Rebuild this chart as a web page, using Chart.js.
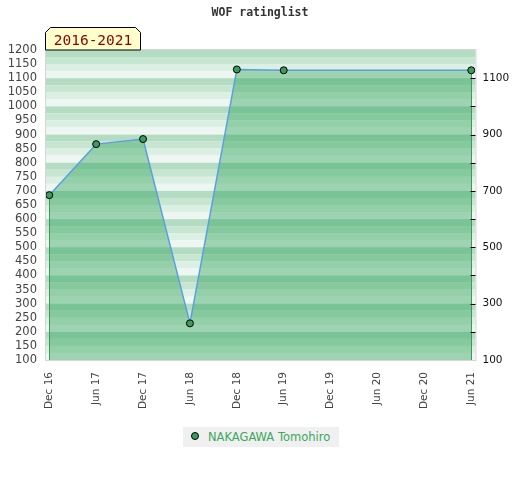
<!DOCTYPE html>
<html>
<head>
<meta charset="utf-8">
<script src="https://cdn.jsdelivr.net/npm/chart.js@4.4.0/dist/chart.umd.min.js"></script>
<style>
  html, body { margin: 0; padding: 0; background: #fff; }
  #wrap { position: relative; width: 520px; height: 480px; }
  #legend { position: absolute; left: 183px; top: 427px; width: 156px; height: 20px;
    background: #f0f0f0; font-family: "DejaVu Sans", sans-serif; font-size: 11.5px; color: #3aa860;
    line-height: 20px; }
  #legend .dot { position: absolute; left: 8px; top: 5px; width: 6px; height: 6px; border-radius: 50%;
    background: #3d9c5c; border: 1px solid #000; }
  #legend .txt { position: absolute; left: 25px; top: 0; white-space: nowrap; }
</style>
</head>
<body>
<div id="wrap">
  <canvas id="c" width="520" height="480"></canvas>
  <div id="legend"><span class="dot"></span><span class="txt" id="legendText"></span></div>
</div>
<script>
const chartTitle = "WOF ratinglist";
const periodLabel = "2016-2021";
const seriesName = "NAKAGAWA Tomohiro";
const categories = ["Dec 16", "Jun 17", "Dec 17", "Jun 18", "Dec 18", "Jun 19", "Dec 19", "Jun 20", "Dec 20", "Jun 21"];
const ratings = [685, 866, 884, 230, 1131, 1128, null, null, null, 1128];
const leftTicks = [100, 150, 200, 250, 300, 350, 400, 450, 500, 550, 600, 650, 700, 750, 800, 850, 900, 950, 1000, 1050, 1100, 1150, 1200];
const rightTickLabels = [100, 300, 500, 700, 900, 1100];
const rightTickMarks = [200, 300, 400, 500, 600, 700, 800, 900, 1000, 1100];

document.getElementById('legendText').textContent = seriesName;

const points = ratings.map((v, i) => ({x: i, y: v})).filter(p => p.y !== null);
const stripeColors = ['#b3dcc3', '#c7e6d2', '#dbefe3', '#eef6f1'];

const decorPlugin = {
  id: 'decor',
  beforeDatasetsDraw(chart) {
    const {ctx, chartArea: a, scales} = chart;
    const y = scales.y;
    ctx.save();
    for (let top = 1200; top > 100; top -= 25) {
      const idx = ((1200 - top) / 25) % 4;
      const y1 = y.getPixelForValue(top), y2 = y.getPixelForValue(top - 25);
      ctx.fillStyle = stripeColors[idx];
      ctx.fillRect(a.left, y1, a.right - a.left, y2 - y1);
    }
    ctx.restore();
  },
  beforeDatasetDraw(chart) {
    const {ctx, chartArea: a} = chart;
    const meta = chart.getDatasetMeta(0);
    const first = meta.data[0], last = meta.data[meta.data.length - 1];
    ctx.save();
    ctx.strokeStyle = '#3a9a5a';
    ctx.lineWidth = 1;
    [first, last].forEach(p => {
      const px = Math.round(p.x) + 0.5;
      ctx.beginPath(); ctx.moveTo(px, p.y); ctx.lineTo(px, a.bottom); ctx.stroke();
    });
    ctx.restore();
  },
  afterDraw(chart) {
    const {ctx, chartArea: a, scales} = chart;
    ctx.save();
    ctx.strokeStyle = '#d6d6d6';
    ctx.lineWidth = 1;
    ctx.strokeRect(a.left - 0.5, a.top - 0.5, a.right - a.left + 1, a.bottom - a.top + 1);
    ctx.strokeStyle = '#000';
    rightTickMarks.forEach(v => {
      const py = Math.round(scales.y2.getPixelForValue(v)) + 0.5;
      ctx.beginPath(); ctx.moveTo(a.right - 5, py); ctx.lineTo(a.right, py); ctx.stroke();
    });
    const l = a.left - 0.5, r = a.left + 94.5, t = a.top - 22.5, b = a.top, c = 5;
    ctx.beginPath();
    ctx.moveTo(l, b); ctx.lineTo(l, t + c); ctx.lineTo(l + c, t);
    ctx.lineTo(r - c, t); ctx.lineTo(r, t + c); ctx.lineTo(r, b);
    ctx.closePath();
    ctx.fillStyle = '#ffffcc';
    ctx.fill();
    ctx.strokeStyle = '#000';
    ctx.stroke();
    ctx.fillStyle = '#8b0000';
    ctx.font = '14.5px "DejaVu Sans Mono", monospace';
    ctx.textAlign = 'center';
    ctx.textBaseline = 'alphabetic';
    ctx.fillText(periodLabel, (l + r) / 2, a.top - 5);
    ctx.restore();
  }
};

new Chart(document.getElementById('c'), {
  type: 'line',
  data: {
    datasets: [{
      label: seriesName,
      data: points,
      borderColor: '#5c9fe0',
      borderWidth: 1.5,
      backgroundColor: 'rgba(30,155,75,0.38)',
      fill: 'start',
      tension: 0,
      pointRadius: 3.5,
      pointBackgroundColor: '#3d9c5c',
      pointBorderColor: '#000',
      pointBorderWidth: 1
    }]
  },
  options: {
    responsive: false,
    animation: false,
    devicePixelRatio: 1,
    layout: { padding: 0 },
    plugins: {
      legend: { display: false },
      tooltip: { enabled: false },
      title: {
        display: true,
        text: chartTitle,
        color: '#333',
        font: { family: '"DejaVu Sans Mono", monospace', size: 11.5, weight: 'bold' },
        padding: { top: 6.5, bottom: 29.7 }
      }
    },
    scales: {
      x: {
        type: 'linear',
        min: -0.07,
        max: 9.09,
        afterBuildTicks: axis => { axis.ticks = categories.map((_, i) => ({ value: i })); },
        afterFit: axis => { axis.height = 120; },
        grid: { display: false, drawTicks: false },
        border: { display: false },
        ticks: {
          autoSkip: false,
          minRotation: 90,
          maxRotation: 90,
          padding: 12,
          color: '#444',
          font: { family: '"DejaVu Sans", sans-serif', size: 10.5 },
          callback: v => categories[v]
        }
      },
      y: {
        position: 'left',
        min: 100,
        max: 1200,
        afterBuildTicks: axis => { axis.ticks = leftTicks.map(v => ({ value: v })); },
        afterFit: axis => { axis.width = 46; },
        grid: { display: false, drawTicks: false },
        border: { display: false },
        ticks: {
          autoSkip: false,
          padding: 9,
          color: '#444',
          font: { family: '"DejaVu Sans", sans-serif', size: 11.5 },
          callback: v => String(v)
        }
      },
      y2: {
        position: 'right',
        min: 100,
        max: 1200,
        afterBuildTicks: axis => { axis.ticks = rightTickLabels.map(v => ({ value: v })); },
        afterFit: axis => { axis.width = 44.5; },
        grid: { display: false, drawTicks: false },
        border: { display: false },
        ticks: {
          autoSkip: false,
          padding: 7,
          color: '#111',
          font: { family: '"DejaVu Sans", sans-serif', size: 10.5 },
          callback: v => String(v)
        }
      }
    }
  },
  plugins: [decorPlugin]
});
</script>
</body>
</html>
